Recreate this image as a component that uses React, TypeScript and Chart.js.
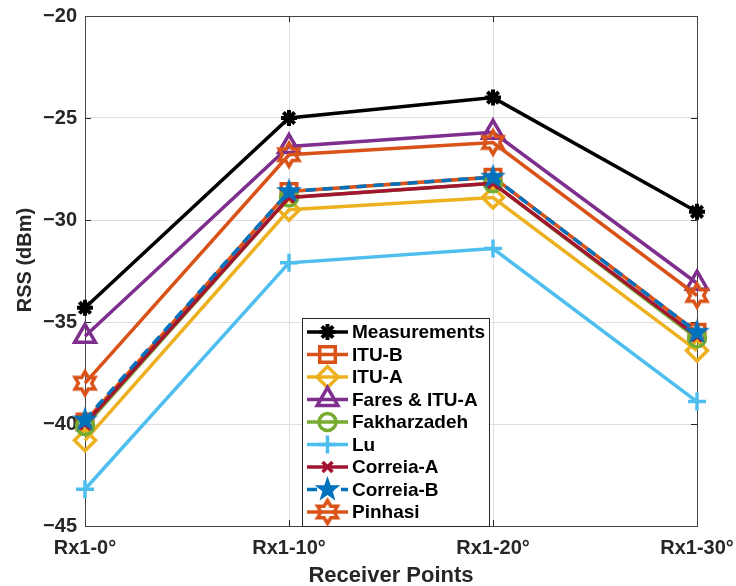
import React, { useEffect, useRef } from 'react';
import { Chart, registerables } from 'chart.js';
import { drawPoint } from 'chart.js/helpers';

Chart.register(...registerables);

// Receiver positions and received signal strength (dBm) per model
const receiverPoints = ['Rx1-0°', 'Rx1-10°', 'Rx1-20°', 'Rx1-30°'];
const measurements = [-34.3, -25.0, -24.0, -29.6];
const ituB = [-39.9, -28.6, -27.9, -35.5];
const ituA = [-40.8, -29.5, -28.9, -36.4];
const faresItuA = [-35.7, -26.4, -25.7, -33.1];
const fakharzadeh = [-40.1, -28.9, -28.2, -35.8];
const lu = [-43.2, -32.1, -31.4, -38.9];
const correiaA = [-40.0, -28.9, -28.2, -35.7];
const correiaB = [-39.8, -28.6, -27.9, -35.5];
const pinhasi = [-38.0, -26.8, -26.2, -33.7];
const yTicks = [-45, -40, -35, -30, -25, -20];

const FONT = '"Liberation Sans", Arial, Helvetica, sans-serif';
const INK = '#262626';
const LINE_W = 3.5;

// Build a star-shaped marker image (pentagram / hexagram)
function starMarker(points: number, outer: number, inner: number, color: string, filled: boolean, lw: number) {
  const size = Math.ceil(2 * outer + 2 * lw + 4);
  const c = document.createElement('canvas');
  c.width = size;
  c.height = size;
  const ctx = c.getContext('2d')!;
  ctx.translate(size / 2, size / 2);
  ctx.beginPath();
  for (let i = 0; i < 2 * points; i++) {
    const r = i % 2 === 0 ? outer : inner;
    const a = -Math.PI / 2 + (i * Math.PI) / points;
    const px = Math.cos(a) * r;
    const py = Math.sin(a) * r;
    if (i === 0) ctx.moveTo(px, py);
    else ctx.lineTo(px, py);
  }
  ctx.closePath();
  if (filled) {
    ctx.fillStyle = color;
    ctx.fill();
  } else {
    ctx.strokeStyle = color;
    ctx.lineWidth = lw;
    ctx.lineJoin = 'miter';
    ctx.stroke();
  }
  return c;
}

type Series = {
  label: string;
  data: number[];
  color: string;
  style: any;
  radius: number;
  width: number;
  dash?: number[];
};

function buildSeries(): Series[] {
  const pentagram = starMarker(5, 13.5, 5.4, '#0072BD', true, 0);
  const hexagram = starMarker(6, 11.5, 6.64, '#D95319', false, 3.5);
  return [
    { label: 'Measurements', data: measurements, color: '#000000', style: 'star', radius: 8, width: 4 },
    { label: 'ITU-B', data: ituB, color: '#D95319', style: 'rect', radius: 11, width: 3.5 },
    { label: 'ITU-A', data: ituA, color: '#EDB120', style: 'rectRot', radius: 10.5, width: 3.5 },
    { label: 'Fares & ITU-A', data: faresItuA, color: '#7E2F8E', style: 'triangle', radius: 12, width: 3.5 },
    { label: 'Fakharzadeh', data: fakharzadeh, color: '#77AC30', style: 'circle', radius: 8.5, width: 3.5 },
    { label: 'Lu', data: lu, color: '#4DBEEE', style: 'cross', radius: 9, width: 3.5 },
    { label: 'Correia-A', data: correiaA, color: '#A2142F', style: 'crossRot', radius: 7, width: 3.5 },
    { label: 'Correia-B', data: correiaB, color: '#0072BD', style: pentagram, radius: 12, width: 3.5, dash: [10, 7] },
    { label: 'Pinhasi', data: pinhasi, color: '#D95319', style: hexagram, radius: 12, width: 3.5 },
  ];
}

export default function App() {
  const canvasRef = useRef<HTMLCanvasElement | null>(null);

  useEffect(() => {
    const canvas = canvasRef.current;
    if (!canvas) return;
    const series = buildSeries();
    const n = series.length;

    // Axes box with inward ticks, axis titles and the legend box
    const decorations = {
      id: 'decorations',
      beforeDatasetsDraw(chart: any) {
        const { ctx, chartArea } = chart;
        const { left, right, top, bottom } = chartArea;
        const xs = chart.scales.x;
        const ys = chart.scales.y;
        ctx.save();
        ctx.strokeStyle = INK;
        ctx.lineWidth = 1;
        ctx.beginPath();
        for (const v of yTicks) {
          const y = Math.round(ys.getPixelForValue(v)) + 0.5;
          ctx.moveTo(left, y);
          ctx.lineTo(left + 6, y);
          ctx.moveTo(right, y);
          ctx.lineTo(right - 6, y);
        }
        receiverPoints.forEach((_, i) => {
          const x = Math.round(xs.getPixelForValue(i)) + 0.5;
          ctx.moveTo(x, bottom);
          ctx.lineTo(x, bottom - 6);
          ctx.moveTo(x, top);
          ctx.lineTo(x, top + 6);
        });
        ctx.stroke();
        ctx.strokeStyle = '#444444';
        ctx.strokeRect(Math.round(left) + 0.5, Math.round(top) + 0.5, Math.round(right - left), Math.round(bottom - top));
        ctx.restore();
      },
      afterDraw(chart: any) {
        const { ctx } = chart;
        ctx.save();
        // y-axis title
        ctx.fillStyle = INK;
        ctx.font = `bold 20px ${FONT}`;
        ctx.textAlign = 'center';
        ctx.textBaseline = 'middle';
        ctx.translate(25, 260);
        ctx.rotate(-Math.PI / 2);
        ctx.fillText('RSS (dBm)', 0, 0);
        ctx.restore();

        // x-axis title
        ctx.save();
        ctx.fillStyle = INK;
        ctx.font = `bold 22px ${FONT}`;
        ctx.textAlign = 'center';
        ctx.textBaseline = 'alphabetic';
        ctx.fillText('Receiver Points', 391, 582);
        ctx.restore();

        // legend
        const bx = 302.5, by = 318.5, bw = 187, bh = 208;
        ctx.save();
        ctx.fillStyle = '#ffffff';
        ctx.fillRect(bx, by, bw, bh);
        ctx.strokeStyle = INK;
        ctx.lineWidth = 1;
        ctx.strokeRect(bx, by, bw, bh);
        series.forEach((s, i) => {
          const y = 332 + i * 22.5;
          ctx.save();
          ctx.strokeStyle = s.color;
          ctx.lineWidth = LINE_W;
          ctx.setLineDash(s.dash || []);
          ctx.beginPath();
          ctx.moveTo(307, y);
          ctx.lineTo(348, y);
          ctx.stroke();
          ctx.setLineDash([]);
          ctx.fillStyle = 'rgba(0,0,0,0)';
          ctx.strokeStyle = s.color;
          ctx.lineWidth = s.width;
          drawPoint(ctx, { pointStyle: s.style, rotation: 0, radius: s.radius, borderWidth: s.width } as any, 327.5, y);
          ctx.restore();
          ctx.fillStyle = '#000000';
          ctx.font = `bold 19px ${FONT}`;
          ctx.textAlign = 'left';
          ctx.textBaseline = 'middle';
          ctx.fillText(s.label, 352, y + 1);
        });
        ctx.restore();
      },
    };

    const chart = new Chart(canvas, {
      type: 'line',
      data: {
        labels: receiverPoints,
        datasets: series.map((s, i) => ({
          label: s.label,
          data: s.data,
          borderColor: s.color,
          backgroundColor: s.color,
          borderWidth: LINE_W,
          borderDash: s.dash || [],
          pointStyle: s.style,
          pointRadius: s.radius,
          pointHoverRadius: s.radius,
          pointBorderWidth: s.width,
          pointBorderColor: s.color,
          pointBackgroundColor: 'rgba(0,0,0,0)',
          tension: 0,
          fill: false,
          clip: false as any,
          order: n - i,
        })),
      },
      options: {
        responsive: false,
        animation: false,
        devicePixelRatio: 1,
        layout: { padding: { top: 16, right: 39, left: 0, bottom: 0 } },
        plugins: {
          legend: { display: false },
          tooltip: { enabled: false },
        },
        scales: {
          x: {
            type: 'category',
            offset: false,
            grid: { color: '#dfdfdf', lineWidth: 1, drawTicks: false },
            border: { display: false },
            ticks: {
              color: INK,
              font: { family: FONT, size: 20, weight: 'bold' },
              padding: 10,
              maxRotation: 0,
              autoSkip: false,
            },
            afterFit(scale: any) {
              scale.height = 60;
              scale.paddingLeft = 0;
              scale.paddingRight = 0;
            },
          },
          y: {
            min: -45,
            max: -20,
            grid: { color: '#dfdfdf', lineWidth: 1, drawTicks: false },
            border: { display: false },
            ticks: {
              stepSize: 5,
              color: INK,
              font: { family: FONT, size: 20, weight: 'bold' },
              padding: 8,
              callback: (v: any) => String(v).replace('-', '\u2212'),
            },
            afterFit(scale: any) {
              scale.width = 85;
              scale.paddingTop = 0;
              scale.paddingBottom = 0;
            },
          },
        },
      },
      plugins: [decorations],
    });

    return () => chart.destroy();
  }, []);

  return (
    <div style={{ position: 'absolute', left: 0, top: 0, width: 736, height: 586, background: '#ffffff' }}>
      <canvas ref={canvasRef} width={736} height={586} />
    </div>
  );
}
